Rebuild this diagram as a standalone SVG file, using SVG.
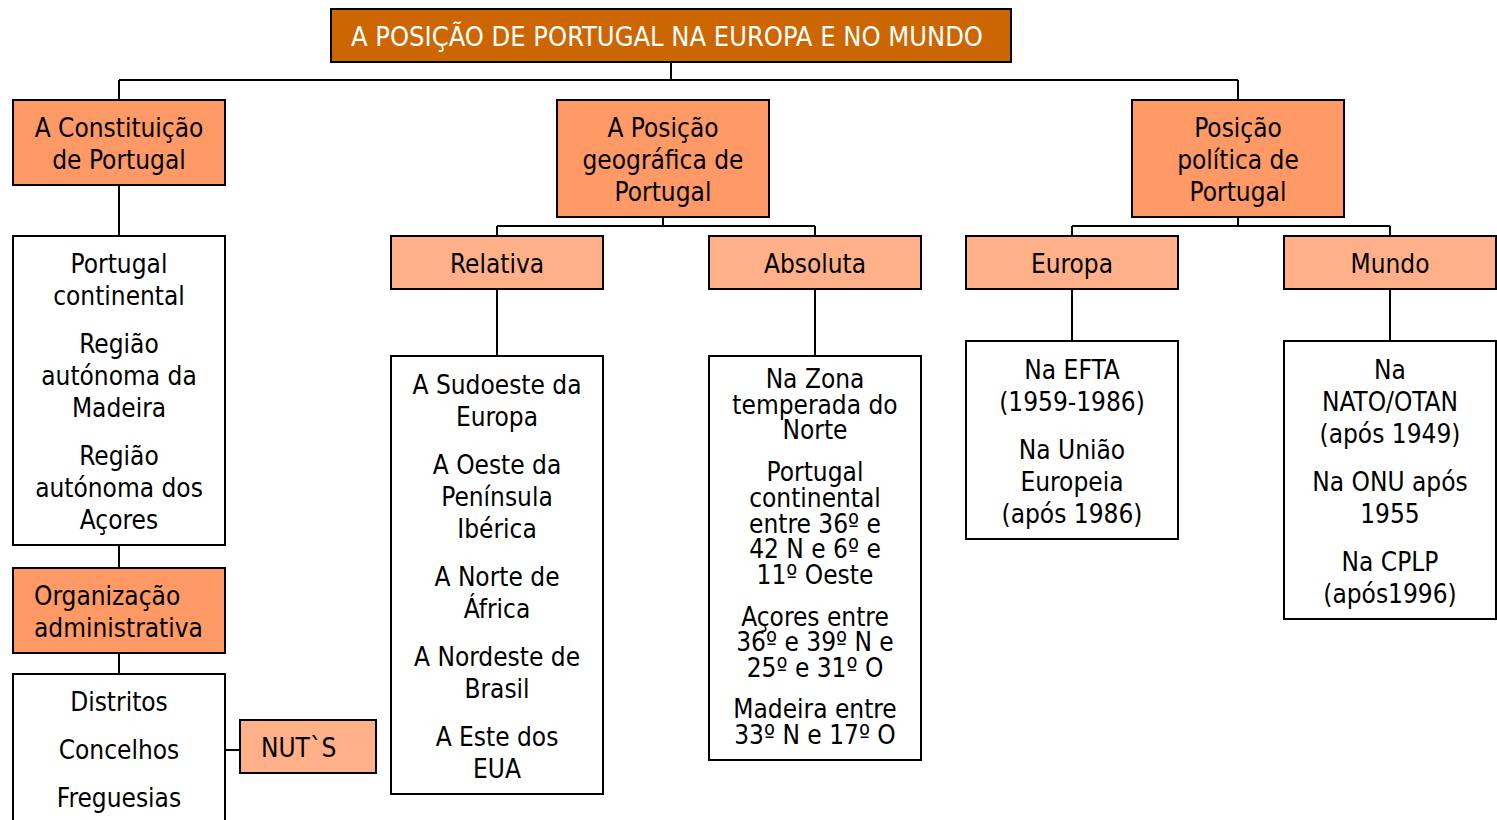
<svg xmlns="http://www.w3.org/2000/svg" width="1497" height="820" viewBox="0 0 1497 820">
<style>
text{font-family:"DejaVu Sans Condensed","DejaVu Sans",Tahoma,sans-serif;font-size:26px;fill:#000;text-anchor:middle}
.t{fill:#fff;font-size:27px}
.l{text-anchor:start}
.b{stroke:#000;stroke-width:2}
.top{fill:#CC6600}
.l1{fill:#FF9966}
.l2{fill:#FFB088}
.w{fill:#fff}
#conn path{fill:none;stroke:#000;stroke-width:2}
</style>
<rect width="1497" height="820" fill="#fff"/>
<g id="conn">
<path d="M671 62V80M119 80H1238M119 80V100M1238 80V100"/>
<path d="M119 185V236M119 545V568M119 653V674M225 750H240"/>
<path d="M663 217V226M497 226H815M497 226V236M815 226V236"/>
<path d="M1238 217V226M1072 226H1390M1072 226V236M1390 226V236"/>
<path d="M497 289V356M815 289V356M1072 289V341M1390 289V341"/>
</g>
<g id="title">
<rect class="b top" x="331" y="9" width="680" height="53"/>
<text class="t" x="667" y="46">A POSIÇÃO DE PORTUGAL NA EUROPA E NO MUNDO</text>
</g>
<g id="constituicao">
<rect class="b l1" x="13" y="100" width="212" height="85"/>
<text x="119" y="137">A Constituição</text>
<text x="119" y="169">de Portugal</text>
</g>
<g id="posgeo">
<rect class="b l1" x="557" y="100" width="212" height="117"/>
<text x="663" y="137">A Posição</text>
<text x="663" y="169">geográfica de</text>
<text x="663" y="201">Portugal</text>
</g>
<g id="pospol">
<rect class="b l1" x="1132" y="100" width="212" height="117"/>
<text x="1238" y="137">Posição</text>
<text x="1238" y="169">política de</text>
<text x="1238" y="201">Portugal</text>
</g>
<g id="regioes">
<rect class="b w" x="13" y="236" width="212" height="309"/>
<text x="119" y="273">Portugal</text>
<text x="119" y="305">continental</text>
<text x="119" y="353">Região</text>
<text x="119" y="385">autónoma da</text>
<text x="119" y="417">Madeira</text>
<text x="119" y="465">Região</text>
<text x="119" y="497">autónoma dos</text>
<text x="119" y="529">Açores</text>
</g>
<g id="organizacao">
<rect class="b l1" x="13" y="568" width="212" height="85"/>
<text class="l" x="34" y="605">Organização</text>
<text class="l" x="34" y="637">administrativa</text>
</g>
<g id="divisoes">
<rect class="b w" x="13" y="674" width="212" height="160"/>
<text x="119" y="711">Distritos</text>
<text x="119" y="759">Concelhos</text>
<text x="119" y="807">Freguesias</text>
</g>
<g id="nuts">
<rect class="b l2" x="240" y="720" width="136" height="53"/>
<text class="l" x="261" y="757">NUT`S</text>
</g>
<g id="relativa">
<rect class="b l2" x="391" y="236" width="212" height="53"/>
<text x="497" y="273">Relativa</text>
</g>
<g id="absoluta">
<rect class="b l2" x="709" y="236" width="212" height="53"/>
<text x="815" y="273">Absoluta</text>
</g>
<g id="europa">
<rect class="b l2" x="966" y="236" width="212" height="53"/>
<text x="1072" y="273">Europa</text>
</g>
<g id="mundo">
<rect class="b l2" x="1284" y="236" width="212" height="53"/>
<text x="1390" y="273">Mundo</text>
</g>
<g id="relativa-lista">
<rect class="b w" x="391" y="356" width="212" height="438"/>
<text x="497" y="394">A Sudoeste da</text>
<text x="497" y="426">Europa</text>
<text x="497" y="474">A Oeste da</text>
<text x="497" y="506">Península</text>
<text x="497" y="538">Ibérica</text>
<text x="497" y="586">A Norte de</text>
<text x="497" y="618">África</text>
<text x="497" y="666">A Nordeste de</text>
<text x="497" y="698">Brasil</text>
<text x="497" y="746">A Este dos</text>
<text x="497" y="778">EUA</text>
</g>
<g id="absoluta-lista">
<rect class="b w" x="709" y="356" width="212" height="404"/>
<text x="815" y="388">Na Zona</text>
<text x="815" y="414">temperada do</text>
<text x="815" y="439">Norte</text>
<text x="815" y="481">Portugal</text>
<text x="815" y="507">continental</text>
<text x="815" y="533">entre 36º e</text>
<text x="815" y="558">42 N e 6º e</text>
<text x="815" y="584">11º Oeste</text>
<text x="815" y="626">Açores entre</text>
<text x="815" y="651">36º e 39º N e</text>
<text x="815" y="677">25º e 31º O</text>
<text x="815" y="718">Madeira entre</text>
<text x="815" y="744">33º N e 17º O</text>
</g>
<g id="europa-lista">
<rect class="b w" x="966" y="341" width="212" height="198"/>
<text x="1072" y="379">Na EFTA</text>
<text x="1072" y="411">(1959-1986)</text>
<text x="1072" y="459">Na União</text>
<text x="1072" y="491">Europeia</text>
<text x="1072" y="523">(após 1986)</text>
</g>
<g id="mundo-lista">
<rect class="b w" x="1284" y="341" width="212" height="278"/>
<text x="1390" y="379">Na</text>
<text x="1390" y="411">NATO/OTAN</text>
<text x="1390" y="443">(após 1949)</text>
<text x="1390" y="491">Na ONU após</text>
<text x="1390" y="523">1955</text>
<text x="1390" y="571">Na CPLP</text>
<text x="1390" y="603">(após1996)</text>
</g>
</svg>
